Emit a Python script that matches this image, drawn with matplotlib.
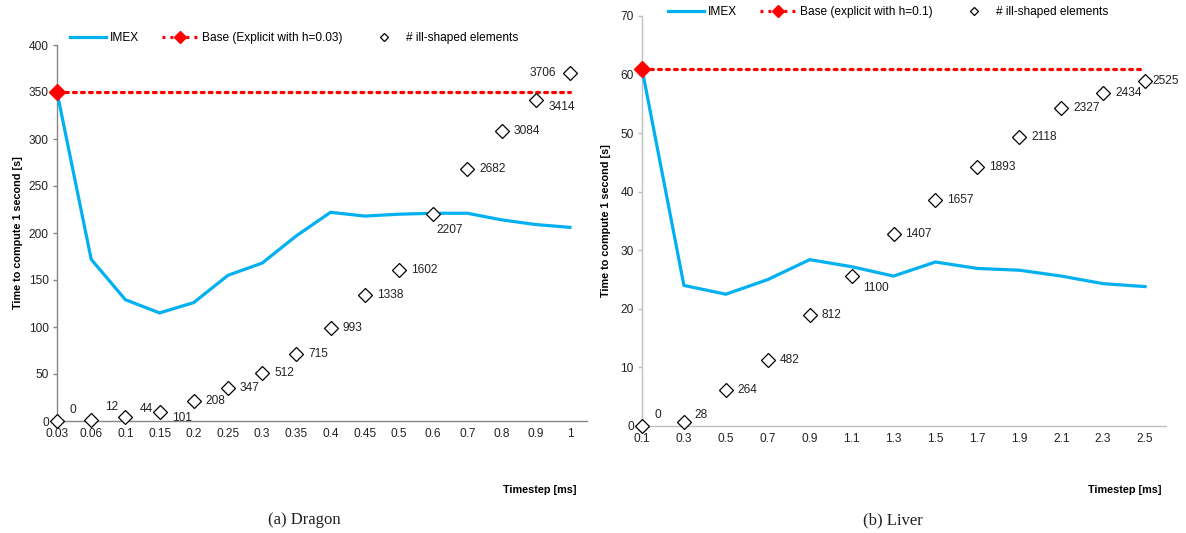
import matplotlib
matplotlib.use('Agg')
import matplotlib.pyplot as plt
from matplotlib.lines import Line2D


# Data - Dragon
DRAGON_STEPS = ['0.03', '0.06', '0.1', '0.15', '0.2', '0.25', '0.3', '0.35',
                '0.4', '0.45', '0.5', '0.6', '0.7', '0.8', '0.9', '1']
DRAGON_IMEX = [350, 172, 129, 115, 126, 155, 168, 197,
               222, 218, 220, 221, 221, 214, 209, 206]
DRAGON_BASE = 350
DRAGON_ILL = [0, 12, 44, 101, 208, 347, 512, 715,
              993, 1338, 1602, 2207, 2682, 3084, 3414, 3706]
DRAGON_ILL_MAX = 4000   # hidden secondary axis

# Data - Liver
LIVER_STEPS = ['0.1', '0.3', '0.5', '0.7', '0.9', '1.1', '1.3',
               '1.5', '1.7', '1.9', '2.1', '2.3', '2.5']
LIVER_IMEX = [61, 24, 22.5, 25, 28.4, 27.2, 25.6, 28, 26.9, 26.6, 25.6, 24.3, 23.8]
LIVER_BASE = 61
LIVER_ILL = [0, 28, 264, 482, 812, 1100, 1407, 1657, 1893, 2118, 2327, 2434, 2525]
LIVER_ILL_MAX = 3000

# label offsets in pixels (dx, dy, ha), default is right of the marker
DRAGON_OFFSETS = {0: (12, 11, 'left'), 1: (14, 13, 'left'), 2: (14, 8, 'left'),
                  3: (12, -6, 'left'), 11: (3, -16, 'left'), 14: (13, -7, 'left'),
                  15: (-14, 0, 'right')}
LIVER_OFFSETS = {0: (12, 11, 'left'), 1: (11, 7, 'left'), 5: (11, -12, 'left'),
                 12: (7, 0, 'left')}

W, H = 1186, 533
BLUE = '#00B0F0'
FONT = 'Liberation Sans'
plt.rcParams['font.family'] = FONT


def px(x0, y0, x1, y1):
    # pixel box (top-left origin) -> figure fraction
    return [x0 / W, 1 - y1 / H, (x1 - x0) / W, (y1 - y0) / H]


def drawPanel(ax, steps, imex, base, ill, ill_max, ymax, ystep, offsets,
              base_label, spine_color):
    n = len(steps)
    xs = list(range(n))
    scale = ymax / ill_max
    ax.plot(xs, imex, color=BLUE, lw=2.3, zorder=3, solid_joinstyle='miter',
            clip_on=False)
    ax.plot(xs, [base] * n, color='red', lw=2.3, ls=(0, (0.9, 1.6)),
            dash_capstyle='round', zorder=2)
    ax.plot([0], [base], marker='D', color='red', ms=8.5, zorder=5, clip_on=False)
    ys = [v * scale for v in ill]
    ax.plot(xs, ys, ls='none', marker='D', ms=7, mfc='white', mec='black',
            mew=0.9, zorder=4, clip_on=False)
    for i, (x, y, v) in enumerate(zip(xs, ys, ill)):
        dx, dy, ha = offsets.get(i, (12, 0, 'left'))
        ax.annotate(str(v), (x, y), xytext=(dx, dy), textcoords='offset pixels',
                    ha=ha, va='center', fontsize=8.6, color='#222222', zorder=6)

    ax.set_xlim(0, n - 0.5)
    ax.set_ylim(0, ymax)
    ax.set_xticks(xs)
    ax.set_xticklabels(steps)
    ax.set_yticks(range(0, ymax + 1, ystep))
    ax.tick_params(axis='x', length=0, pad=5, labelsize=8.6, labelcolor='#222222')
    ax.tick_params(axis='y', length=3, width=1, color=spine_color, pad=3,
                   labelsize=8.6, labelcolor='#222222')
    for s in ['top', 'right']:
        ax.spines[s].set_visible(False)
    for s in ['left', 'bottom']:
        ax.spines[s].set_color(spine_color)
        ax.spines[s].set_linewidth(1.0)

    handles = [
        Line2D([], [], color=BLUE, lw=2.3),
        Line2D([], [], color='red', lw=2.3, ls=(0, (0.9, 1.6)), marker='D',
               ms=6, markevery=[0]),
        Line2D([], [], ls='none', marker='D', ms=4.5, mfc='white', mec='black', mew=0.9),
    ]
    return handles, ['IMEX', base_label, '# ill-shaped elements']


fig = plt.figure(figsize=(W / 100, H / 100), dpi=100)
ax1 = fig.add_axes(px(57, 45, 587, 421))
ax2 = fig.add_axes(px(642, 16, 1166, 426))

h1, l1 = drawPanel(ax1, DRAGON_STEPS, DRAGON_IMEX, DRAGON_BASE, DRAGON_ILL,
                   DRAGON_ILL_MAX, 400, 50, DRAGON_OFFSETS,
                   'Base (Explicit with h=0.03)', '#868686')
h2, l2 = drawPanel(ax2, LIVER_STEPS, LIVER_IMEX, LIVER_BASE, LIVER_ILL,
                   LIVER_ILL_MAX, 70, 10, LIVER_OFFSETS,
                   'Base (explicit with h=0.1)', '#BFBFBF')

for handles, labels, x, y in [(h1, l1, 70, 38), (h2, l2, 668, 12)]:
    fig.legend(handles, labels, loc='center left', bbox_to_anchor=(x / W, 1 - y / H),
               bbox_transform=fig.transFigure, ncol=3, frameon=False,
               fontsize=8.6, handlelength=3.0, handletextpad=0.3,
               columnspacing=2.0, borderpad=0, borderaxespad=0)

# axis titles
fig.text(18 / W, 1 - 233 / H, 'Time to compute 1 second [s]', rotation=90,
         ha='center', va='center', fontsize=7.8, fontweight='bold')
fig.text(606 / W, 1 - 221 / H, 'Time to compute 1 second [s]', rotation=90,
         ha='center', va='center', fontsize=7.8, fontweight='bold')
fig.text(540 / W, 1 - 490 / H, 'Timestep [ms]', ha='center', va='center',
         fontsize=7.8, fontweight='bold')
fig.text(1125 / W, 1 - 490 / H, 'Timestep [ms]', ha='center', va='center',
         fontsize=7.8, fontweight='bold')

# captions
fig.text(304 / W, 1 - 520 / H, '(a) Dragon', ha='center', va='center',
         fontsize=12, family='Liberation Serif', color='#222222')
fig.text(893 / W, 1 - 520 / H, '(b) Liver', ha='center', va='center',
         fontsize=12, family='Liberation Serif', color='#222222')

fig.savefig('out.png', dpi=100)
